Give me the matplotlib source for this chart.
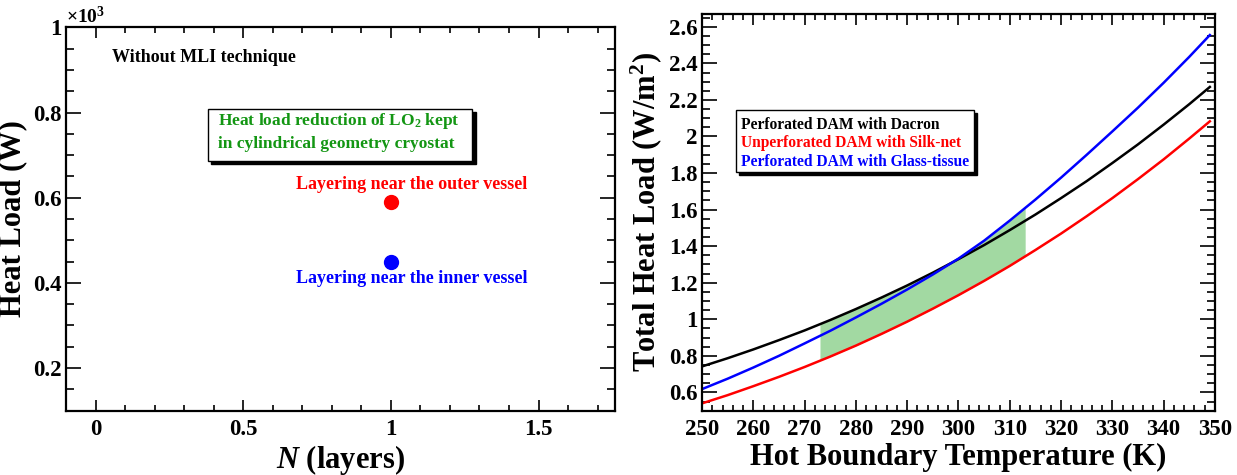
import numpy as np
import matplotlib
matplotlib.use("Agg")
import matplotlib.pyplot as plt
from matplotlib.patches import Rectangle
from matplotlib.ticker import MultipleLocator, FormatStrFormatter

plt.rcParams['font.family'] = ['Liberation Serif', 'DejaVu Serif']
plt.rcParams['font.weight'] = 'bold'
plt.rcParams['axes.labelweight'] = 'bold'
plt.rcParams['mathtext.fontset'] = 'custom'
plt.rcParams['mathtext.rm'] = 'Liberation Serif:bold'
plt.rcParams['mathtext.it'] = 'Liberation Serif:italic:bold'
plt.rcParams['mathtext.bf'] = 'Liberation Serif:bold'

# left panel: heat load without MLI (units of 10^3 W)
n_layers = [1, 1]
heat_load = [0.59, 0.45]
point_colors = ['red', 'blue']
point_labels = ['Layering near the outer vessel', 'Layering near the inner vessel']

# right panel: total heat load vs hot boundary temperature
temp_k = [250, 255, 260, 265, 270, 275, 280, 285, 290, 295, 300,
          305, 310, 315, 320, 325, 330, 335, 340, 345, 349]
dacron = [0.742, 0.787, 0.835, 0.886, 0.939, 0.996, 1.056, 1.119, 1.185, 1.255, 1.329,
          1.406, 1.488, 1.573, 1.663, 1.756, 1.855, 1.957, 2.065, 2.177, 2.271]
silk_net = [0.540, 0.585, 0.634, 0.685, 0.739, 0.796, 0.856, 0.920, 0.987, 1.058, 1.132,
            1.210, 1.292, 1.379, 1.469, 1.564, 1.663, 1.767, 1.875, 1.989, 2.083]
glass_tissue = [0.618, 0.675, 0.736, 0.800, 0.868, 0.937, 1.010, 1.085, 1.163, 1.245, 1.332,
                1.430, 1.540, 1.655, 1.775, 1.900, 2.028, 2.158, 2.294, 2.436, 2.555]
series_names = ['Perforated DAM with Dacron', 'Unperforated DAM with Silk-net',
                'Perforated DAM with Glass-tissue']
series_colors = ['black', 'red', 'blue']
band_range = [273, 313]

GREEN = '#139613'
FILL = '#a2d9a2'


def style_axes(ax, xmaj, xmin, ymaj, ymin, fmt='%g'):
    ax.xaxis.set_major_locator(MultipleLocator(xmaj))
    ax.xaxis.set_minor_locator(MultipleLocator(xmin))
    ax.yaxis.set_major_locator(MultipleLocator(ymaj))
    ax.yaxis.set_minor_locator(MultipleLocator(ymin))
    ax.xaxis.set_major_formatter(FormatStrFormatter(fmt))
    ax.yaxis.set_major_formatter(FormatStrFormatter(fmt))
    ax.tick_params(axis='both', which='both', direction='in', top=True, right=True,
                   labelsize=16.5, width=1.2)
    ax.tick_params(axis='x', which='major', length=8, pad=6)
    ax.tick_params(axis='x', which='minor', length=4)
    ax.tick_params(axis='y', which='major', length=11, pad=3)
    ax.tick_params(axis='y', which='minor', length=6)
    for s in ax.spines.values():
        s.set_linewidth(1.6)
    for lab in ax.get_xticklabels() + ax.get_yticklabels():
        lab.set_fontweight('bold')


def shadow_box(ax, x0, y0, w, h, dx=0.006, dy=0.008):
    ax.add_patch(Rectangle((x0 + dx, y0 - dy), w, h, transform=ax.transAxes,
                           facecolor='black', edgecolor='black', zorder=5))
    ax.add_patch(Rectangle((x0, y0), w, h, transform=ax.transAxes,
                           facecolor='white', edgecolor='black', lw=1.0, zorder=6))


fig = plt.figure(figsize=(12.37, 4.75), dpi=100)
ax1 = fig.add_axes([0.0534, 0.1354, 0.4440, 0.8071])
ax2 = fig.add_axes([0.5675, 0.1354, 0.4147, 0.8351])

# ---- left panel
for x, y, c, lab, dy in zip(n_layers, heat_load, point_colors, point_labels, [0.041, -0.04]):
    ax1.plot(x, y, 'o', color=c, markersize=10, zorder=3)
    ax1.text(x + 0.071, y + dy, lab, color=c, fontsize=13, ha='center', va='center')

ax1.set_xlim(-0.1, 1.76)
ax1.set_ylim(0.1, 1.0)
style_axes(ax1, 0.5, 0.1, 0.2, 0.05)
ax1.set_xlabel(r'$N$ (layers)', fontsize=22, labelpad=2)
ax1.set_ylabel('Heat Load (W)', fontsize=22, labelpad=4)
ax1.text(0.0, 1.0, r'$\times10^{3}$', transform=ax1.transAxes, fontsize=14,
         ha='left', va='bottom')
ax1.text(0.055, 0.928, 'Without MLI technique', fontsize=13, ha='left', va='center')

shadow_box(ax1, 0.2587, 0.652, 0.4808, 0.1357)
ax1.text(0.277, 0.7545, r'Heat load reduction of LO$_2$ kept', transform=ax1.transAxes,
         color=GREEN, fontsize=12.5, ha='left', va='center', zorder=7)
ax1.text(0.277, 0.695, 'in cylindrical geometry cryostat', transform=ax1.transAxes,
         color=GREEN, fontsize=12.5, ha='left', va='center', zorder=7)

# ---- right panel
t = np.array(temp_k, dtype=float)
d = np.array(dacron)
s = np.array(silk_net)
g = np.array(glass_tissue)
tb = np.linspace(band_range[0], band_range[1], 81)
upper = np.maximum(np.interp(tb, t, d), np.interp(tb, t, g))
lower = np.interp(tb, t, s)
ax2.fill_between(tb, lower, upper, color=FILL, lw=0, zorder=1)

for ys, c in zip([d, s, g], series_colors):
    ax2.plot(t, ys, color=c, lw=1.8, zorder=2)

ax2.set_xlim(250, 350)
ax2.set_ylim(0.5, 2.67)
style_axes(ax2, 10, 2, 0.2, 0.05)
ax2.set_xlabel('Hot Boundary Temperature (K)', fontsize=22, labelpad=2)
ax2.set_ylabel(r'Total Heat Load (W/m$^2$)', fontsize=22, labelpad=4)

shadow_box(ax2, 0.066, 0.6025, 0.464, 0.1555)
for i, (name, c) in enumerate(zip(series_names, series_colors)):
    ax2.text(0.076, 0.72 - i * 0.046, name, transform=ax2.transAxes, color=c,
             fontsize=11.2, ha='left', va='center', zorder=7)

fig.savefig('out.png', dpi=100)
